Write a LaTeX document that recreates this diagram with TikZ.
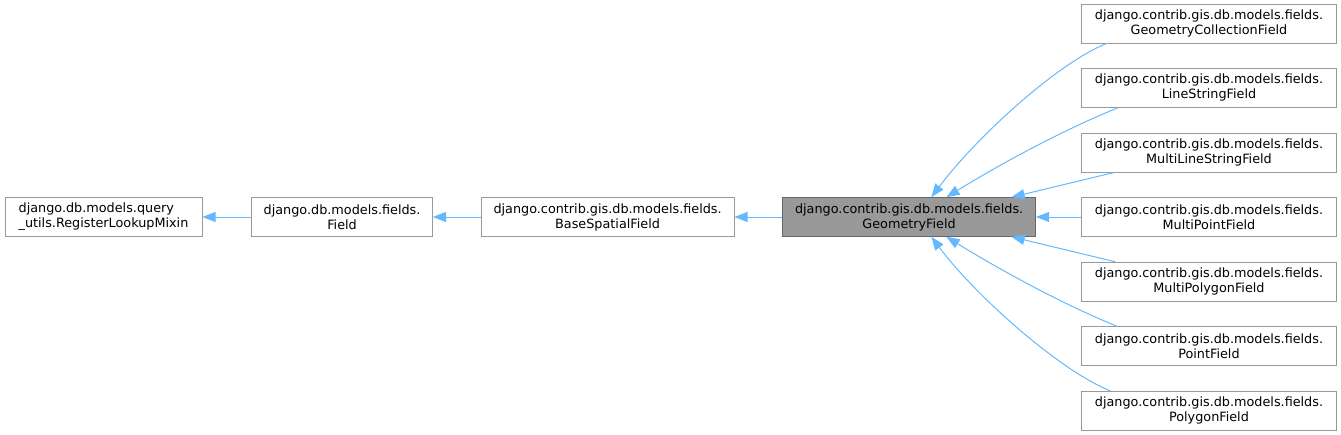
\documentclass[tikz,border=0pt]{standalone}
\usepackage{fontspec}
\setmainfont{DejaVu Sans}
\usetikzlibrary{arrows.meta, positioning}
\definecolor{link}{HTML}{63B8FF}
\definecolor{frame}{HTML}{999999}
\definecolor{focus}{HTML}{999999}
\definecolor{focusframe}{HTML}{666666}

\begin{document}
\begin{tikzpicture}[x=0.75pt, y=-0.75pt, font=\fontsize{9.6}{11.3}\selectfont, >={Triangle[length=10pt, width=7.5pt]}, node distance=18.75pt and 36pt,
    cls/.style={draw=frame, fill=white, align=center, minimum height=29.25pt, inner sep=2pt},
    cur/.style={cls, draw=focusframe, fill=focus},
    sub/.style={cls, minimum width=191.25pt},
    inh/.style={->, draw=link, fill=none, line width=0.75pt}]

  \useasboundingbox (0,0) rectangle (1341,435);

  \node[cls, minimum width=147.75pt, align=left] (reg) at (103.5,217) {django.db.models.query\\\_utils.RegisterLookupMixin};
  \node[cls, minimum width=135.75pt, right=36.75pt of reg] (fld) {django.db.models.fields.\\Field};
  \node[cls, minimum width=189.75pt, right=of fld] (bsf) {django.contrib.gis.db.models.fields.\\BaseSpatialField};
  \node[cur, minimum width=189.75pt, right=of bsf] (geo) {django.contrib.gis.db.models.fields.\\GeometryField};

  \node[sub, right=34pt of geo] (mpt) {django.contrib.gis.db.models.fields.\\MultiPointField};
  \node[sub, above=of mpt] (mls) {django.contrib.gis.db.models.fields.\\MultiLineStringField};
  \node[sub, above=of mls] (lsf) {django.contrib.gis.db.models.fields.\\LineStringField};
  \node[sub, above=of lsf] (gcf) {django.contrib.gis.db.models.fields.\\GeometryCollectionField};
  \node[sub, below=of mpt] (mpg) {django.contrib.gis.db.models.fields.\\MultiPolygonField};
  \node[sub, below=of mpg] (pnt) {django.contrib.gis.db.models.fields.\\PointField};
  \node[sub, below=of pnt] (pgf) {django.contrib.gis.db.models.fields.\\PolygonField};

  \draw[inh] (fld) -- (reg);
  \draw[inh] (bsf) -- (fld);
  \draw[inh] (geo) -- (bsf);
  \draw[inh] (mpt) -- (geo);

  \draw[inh] ([xshift=19.5pt]gcf.south west) .. controls +(-50,20) and +(45,-60) .. ([xshift=111.75pt]geo.north west);
  \draw[inh] ([xshift=27.75pt]lsf.south west) .. controls +(-45,18) and +(65,-40) .. ([xshift=123pt]geo.north west);
  \draw[inh] ([xshift=25.5pt]mls.south west) -- ([xshift=171.75pt]geo.north west);
  \draw[inh] ([xshift=25.5pt]mpg.north west) -- ([xshift=171.75pt]geo.south west);
  \draw[inh] ([xshift=27pt]pnt.north west) .. controls +(-45,-18) and +(65,40) .. ([xshift=123pt]geo.south west);
  \draw[inh] ([xshift=21.75pt]pgf.north west) .. controls +(-50,-20) and +(45,60) .. ([xshift=111.75pt]geo.south west);
\end{tikzpicture}
\end{document}
